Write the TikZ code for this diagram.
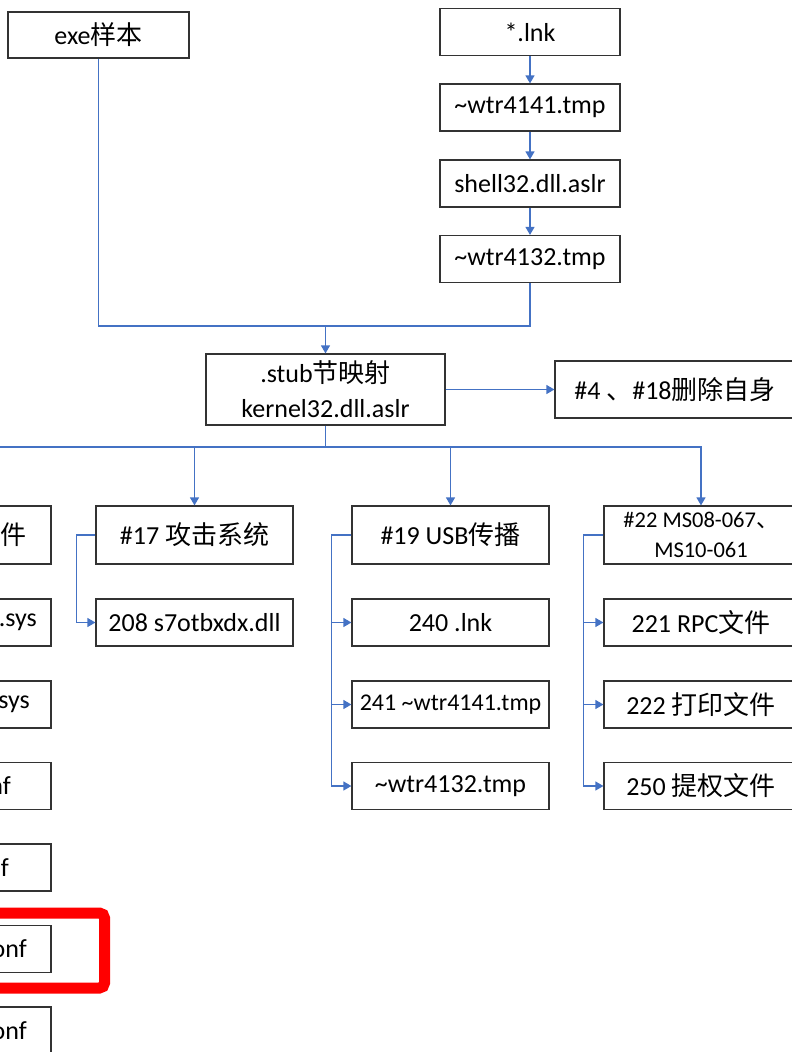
\documentclass[tikz,border=0pt]{standalone}
\usepackage{fontspec}
\setmainfont{Carlito}
\newfontfamily\cjk{Noto Sans CJK SC}
\newcommand{\zh}[1]{{\cjk #1}}
\usetikzlibrary{arrows.meta}

\definecolor{linkblue}{HTML}{4472C4}
\tikzset{
  box/.style={draw=black!80, line width=1.2pt, minimum width=197pt, minimum height=47pt,
    inner sep=0pt, align=center, font=\fontsize{26}{35}\selectfont},
  frag/.style={inner sep=0pt, anchor=east, font=\fontsize{26}{35}\selectfont},
  wire/.style={draw=linkblue, line width=1.2pt},
  flow/.style={wire, -{Triangle[length=8pt,width=9pt]}},
  hilite/.style={draw=red, line width=11pt, rounded corners=5pt}
}

\begin{document}
\begin{tikzpicture}[x=1pt,y=-1pt]
    % 画面の範囲
    \useasboundingbox (0,0) rectangle (792,1052);
    \clip (0,0) rectangle (792,1052);

    % 上段の入口
    \node[box, minimum width=181pt, minimum height=46pt] (exe) at (98.5,35) {exe\zh{样本}};
    \node[box, minimum width=180pt] (lnk)   at (530,32)    {*.lnk};
    \node[box, minimum width=180pt] (tmpA)  at (530,107.5) {\textasciitilde wtr4141.tmp};
    \node[box, minimum width=180pt] (shell) at (530,183.5) {shell32.dll.aslr};
    \node[box, minimum width=180pt] (tmpB)  at (530,259)   {\textasciitilde wtr4132.tmp};

    % 中央の節
    \node[box, minimum width=239pt, minimum height=71pt] (stub) at (325.5,389.5)
      {.stub\zh{节映射}\\kernel32.dll.aslr};
    \node[box, minimum width=240pt, minimum height=57pt] (del) at (675,389.5)
      {\#4 \zh{、}\#18\zh{删除自身}};

    % 左の列（切れている）
    \node[box, minimum height=58pt] (left0) at (-47.5,535) {};
    \node[box] (left1) at (-47.5,622.5) {};
    \node[box] (left2) at (-47.5,704.5) {};
    \node[box] (left3) at (-47.5,786)   {};
    \node[box] (left4) at (-47.5,867.5) {};
    \node[box] (left5) at (-47.5,949)   {};
    \node[box] (left6) at (-47.5,1030.5) {};
    \node[frag] (f0) at (27,535)    {\zh{件}};
    \node[frag] (f1) at (37,622.5)  {.sys};
    \node[frag] (f2) at (30,704.5)  {sys};
    \node[frag] (f3) at (11,786)    {nf};
    \node[frag] (f4) at (9,867.5)   {f};
    \node[frag] (f5) at (27,949)    {onf};
    \node[frag] (f6) at (27,1030.5) {onf};

    % #17 の列
    \node[box, minimum height=58pt] (atk) at (194.5,535) {\#17 \zh{攻击系统}};
    \node[box] (s7) at (194.5,622.5) {208 s7otbxdx.dll};

    % #19 の列
    \node[box, minimum height=58pt] (usb) at (450.5,535) {\#19 USB\zh{传播}};
    \node[box] (u1) at (450.5,622.5) {240 .lnk};
    \node[box, font=\fontsize{24}{30}\selectfont] (u2) at (450.5,704.5) {241 \textasciitilde wtr4141.tmp};
    \node[box] (u3) at (450.5,786) {\textasciitilde wtr4132.tmp};

    % #22 の列
    \node[box, minimum width=194pt, minimum height=58pt, font=\fontsize{22.5}{30}\selectfont] (ms) at (701,535)
      {\#22 MS08-067\zh{、}\\MS10-061};
    \node[box, minimum width=194pt] (r1) at (701,622.5) {221 RPC\zh{文件}};
    \node[box, minimum width=194pt] (r2) at (701,704.5) {222 \zh{打印文件}};
    \node[box, minimum width=194pt] (r3) at (701,786)   {250 \zh{提权文件}};

    % 上段の矢印
    \draw[flow] (lnk) -- (tmpA);
    \draw[flow] (tmpA) -- (shell);
    \draw[flow] (shell) -- (tmpB);
    \coordinate (join) at (325.5,326);
    \draw[wire] (exe.south) |- (join);
    \draw[wire] (tmpB.south) |- (join);
    \draw[flow] (join) -- (stub.north);
    \draw[flow] (stub) -- (del);

    % 分岐
    \coordinate (bus) at (325.5,447);
    \draw[wire] (stub.south) -- (bus);
    \draw[flow] (bus) -| (left0.north);
    \draw[flow] (bus) -| (atk.north);
    \draw[flow] (bus) -| (usb.north);
    \draw[flow] (bus) -| (ms.north);

    % 各列の枝
    \draw[flow] (atk.west) -- ++(-19,0) |- (s7.west);
    \draw[flow] (usb.west) -- ++(-20,0) |- (u1.west);
    \draw[flow] (usb.west) -- ++(-20,0) |- (u2.west);
    \draw[flow] (usb.west) -- ++(-20,0) |- (u3.west);
    \draw[flow] (ms.west) -- ++(-20,0) |- (r1.west);
    \draw[flow] (ms.west) -- ++(-20,0) |- (r2.west);
    \draw[flow] (ms.west) -- ++(-20,0) |- (r3.west);

    % 赤い枠
    \draw[hilite] (-40,913) rectangle (104.5,988);

\end{tikzpicture}
\end{document}
